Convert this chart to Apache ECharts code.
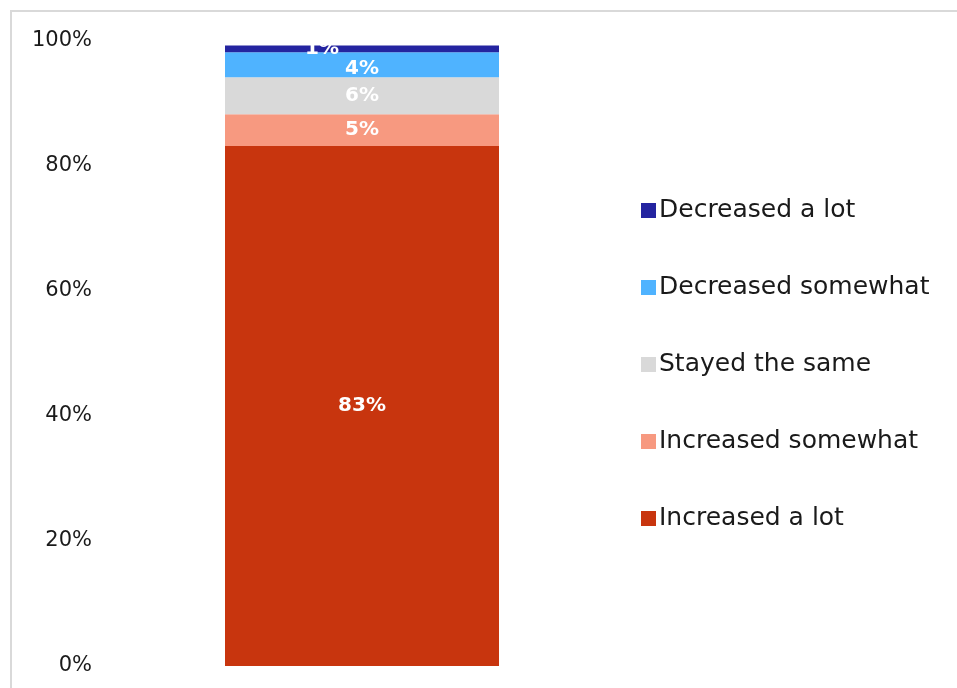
<!DOCTYPE html>
<html><head><meta charset="utf-8">
<script src="https://cdn.jsdelivr.net/npm/echarts@6/dist/echarts.min.js"></script>
<style>html,body{margin:0;padding:0;background:#fff}#c{width:957px;height:688px}</style>
</head><body><div id="c"></div>
<script>
const categories = ['All'];
const seriesNames = ['Increased a lot', 'Increased somewhat', 'Stayed the same', 'Decreased somewhat', 'Decreased a lot'];
const increasedALot = [83.2];
const increasedSomewhat = [5.1];
const stayedSame = [5.9];
const decreasedSomewhat = [4.0];
const decreasedALot = [1.1];
const yTicks = [0, 20, 40, 60, 80, 100];
const colors = ['#C8350E', '#F79980', '#D9D9D9', '#4FB3FF', '#2424A0'];
const FONT = 'DejaVu Sans';

const values = [increasedALot, increasedSomewhat, stayedSame, decreasedSomewhat, decreasedALot];
const labelOffsets = [[0,0],[0,0],[0,0],[0,4],[-40,0]];
const chart = echarts.init(document.getElementById('c'));
chart.setOption({
  animation: false,
  graphic: [{type:'rect', shape:{x:11, y:11, width:960, height:690}, style:{fill:'none', stroke:'#d9d9d9', lineWidth:2}, silent:true}],
  grid: {left: 100, width: 524, top: 41, bottom: 22},
  xAxis: {type:'category', data: categories, axisLine:{show:false}, axisTick:{show:false}, axisLabel:{show:false}},
  yAxis: {type:'value', min: yTicks[0], max: yTicks[yTicks.length-1], interval: 20,
    splitLine:{show:false}, axisLine:{show:false}, axisTick:{show:false},
    axisLabel:{formatter:'{value}%', color:'#1a1a1a', fontSize:21, fontFamily:FONT, margin:8}},
  legend: {orient:'vertical', left: 636, top: 193, itemGap: 52, itemWidth:15, itemHeight:15,
    icon:'rect', data: seriesNames.slice().reverse(),
    textStyle:{fontSize:25, color:'#1a1a1a', fontFamily:FONT, padding:[0,0,0,-2]}},
  series: seriesNames.map((n,i)=>({
    name:n, type:'bar', stack:'total', barWidth:274, data: values[i],
    itemStyle:{color:colors[i]},
    label:{show:true, position:'inside', offset: labelOffsets[i], color:'#fff', fontWeight:'bold', fontSize:20, fontFamily:FONT,
      formatter: p => Math.round(p.value) + '%'}
  }))
});
</script></body></html>
